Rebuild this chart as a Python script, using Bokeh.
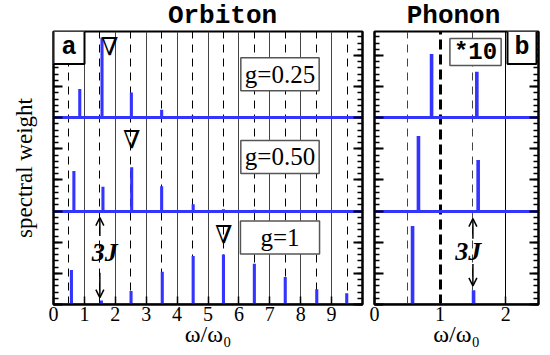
import math
from bokeh.plotting import figure
from bokeh.models import (Range1d, LinearAxis, FixedTicker, SingleIntervalTicker, Grid,
                          Label, Arrow, OpenHead, CustomJSTickFormatter)
from bokeh.layouts import row, column
from bokeh.embed import file_html
from bokeh.resources import INLINE

# ---------------- data ----------------
orb_tick_values = [0, 1, 2, 3, 4, 5, 6, 7, 8, 9]
orb_solid_lines = [1, 2, 3, 4, 5, 6, 7, 8, 9]
orb_dashed_lines = [0.5, 1.5, 2.5, 3.5, 4.5, 5.5, 6.5, 7.5, 8.5, 9.5]
ph_tick_values = [0, 1, 2]
ph_dashed_lines = [0.5, 1.5]
ph_thick_dashed = [1]
ph_solid_lines = [2]

offsets = [6, 3, 0]                      # vertical offsets: g=0.25, g=0.50, g=1
g_labels = ["g=0.25", "g=0.50", "g=1"]

# orbiton spectra (peak position in w/w0, peak weight)
orb_pos = [
    [0.85, 1.57, 2.52, 3.50, 4.50],
    [0.66, 1.60, 2.53, 3.50, 4.52, 5.50, 6.50, 7.50],
    [0.58, 1.55, 2.51, 3.52, 4.52, 5.50, 6.50, 7.50, 8.52, 9.49],
]
orb_w = [
    [0.92, 2.58, 0.81, 0.26, 0.06],
    [1.29, 0.78, 1.41, 0.80, 0.22, 0.06, 0.04, 0.03],
    [1.11, 0.13, 0.43, 1.05, 1.56, 1.61, 1.31, 0.88, 0.49, 0.36],
]
# phonon spectra (x10)
ph_pos = [
    [0.87, 1.56],
    [0.67, 1.58],
    [0.58, 1.51],
]
ph_w = [
    [2.05, 1.48],
    [2.41, 1.64],
    [2.52, 0.46],
]

BLUE = "#3434ff"
SERIF = "Liberation Serif"
MONO = "Liberation Mono"
Y_END = 8.77
STRIP_H = 30
BLANK = CustomJSTickFormatter(code="return ''")


def base_fig(x_end, frame_w, bl, br, tick_vals):
    p = figure(frame_width=frame_w, frame_height=273,
               x_range=Range1d(0, x_end), y_range=Range1d(0, Y_END),
               output_backend="svg", toolbar_location=None,
               min_border_left=bl, min_border_right=br,
               min_border_top=31 - STRIP_H, min_border_bottom=45)
    p.background_fill_color = "white"
    p.border_fill_color = "white"
    p.outline_line_color = "black"
    p.outline_line_width = 2
    p.ygrid.visible = False
    p.xgrid.visible = False

    xb = p.xaxis[0]
    xb.ticker = FixedTicker(ticks=tick_vals)
    xb.axis_line_width = 2
    xb.major_tick_in = 8
    xb.major_tick_out = 0
    xb.minor_tick_in = 0
    xb.minor_tick_out = 0
    xb.major_tick_line_width = 1.5
    xb.major_label_text_font = SERIF
    xb.major_label_text_font_size = "20px"
    xb.major_label_text_color = "black"
    xb.major_label_standoff = 2
    xb.axis_label = "ω/ω₀"
    xb.axis_label_text_font = SERIF
    xb.axis_label_text_font_size = "24px"
    xb.axis_label_text_font_style = "normal"
    xb.axis_label_text_color = "black"
    xb.axis_label_standoff = -3

    yl = p.yaxis[0]
    yl.ticker = SingleIntervalTicker(interval=1, num_minor_ticks=5)
    yl.formatter = BLANK
    yr = LinearAxis(ticker=SingleIntervalTicker(interval=1, num_minor_ticks=5), formatter=BLANK)
    p.add_layout(yr, "right")
    for ax in (yl, yr):
        ax.axis_line_width = 2
        ax.major_tick_in = 9
        ax.major_tick_out = 0
        ax.minor_tick_in = 5
        ax.minor_tick_out = 0
        ax.major_tick_line_width = 2
        ax.minor_tick_line_width = 1.5
        ax.major_label_standoff = 0
        ax.major_label_text_font_size = "1px"
    return p


def grid(p, ticks, color, width, dash):
    p.add_layout(Grid(dimension=0, ticker=FixedTicker(ticks=ticks),
                      grid_line_color=color, grid_line_width=width,
                      grid_line_dash=dash))


def label(p, x, y, text, font, size, style="normal", border=None, pad=0,
          angle=0, bw=1.5, units="data"):
    kw = {}
    if border is not None:
        kw = dict(border_line_color=border, border_line_width=bw,
                  background_fill_color="white", padding=pad)
    p.add_layout(Label(x=x, y=y, text=text, text_font=font,
                       x_units=units, y_units=units,
                       text_font_size=size, text_font_style=style,
                       text_align="center", text_baseline="middle",
                       angle=angle, text_color="black", **kw))


# ---------------- title strip ----------------
strip = figure(width=548, height=STRIP_H, x_range=Range1d(0, 548), y_range=Range1d(0, STRIP_H),
               output_backend="svg", toolbar_location=None,
               x_axis_type=None, y_axis_type=None, min_border=0)
strip.outline_line_color = None
strip.grid.visible = False
label(strip, 222, STRIP_H - 15, "Orbiton", MONO, "26px", style="bold")
label(strip, 453, STRIP_H - 15, "Phonon", MONO, "26px", style="bold")

# ---------------- panel a : Orbiton ----------------
pa = base_fig(10, 309, 53, 6, orb_tick_values)
pa.yaxis[0].axis_label = "spectral weight"
pa.yaxis[0].axis_label_text_font = SERIF
pa.yaxis[0].axis_label_text_font_size = "23px"
pa.yaxis[0].axis_label_text_font_style = "normal"
pa.yaxis[0].axis_label_text_color = "black"
pa.yaxis[0].axis_label_standoff = 17

grid(pa, orb_solid_lines, "#444444", 1, "solid")
grid(pa, orb_dashed_lines, "black", 1, "8 6")

pa.hspan(y=offsets, line_color=BLUE, line_width=3)
for off, xs, ws in zip(offsets, orb_pos, orb_w):
    pa.vbar(x=xs, bottom=off, top=[off + w for w in ws], width=0.1,
            fill_color=BLUE, line_color=None)

for yc, txt, pad in zip([7.40, 4.74, 2.15], g_labels, [(4, 3), (4, 3), (20, 3)]):
    label(pa, 7.33, yc, txt, SERIF, "25px", border="#555555", pad=pad, bw=1.5)

for xx, yy in [(1.82, 8.29), (2.53, 5.30), (5.51, 2.24)]:
    label(pa, xx, yy, "∇", "DejaVu Serif", "25px")

label(pa, 15.5, 257, "a", MONO, "25px", style="bold", border="black", pad=(8, 2), bw=2,
      units="screen")

label(pa, 1.66, 1.66, "3J", SERIF, "26px", style="bold italic")
pa.add_layout(Arrow(x_start=1.5, y_start=2.2, x_end=1.5, y_end=2.79,
                    line_width=1.5, end=OpenHead(size=8, line_width=1.5)))
pa.add_layout(Arrow(x_start=1.5, y_start=1.02, x_end=1.5, y_end=0.22,
                    line_width=1.5, end=OpenHead(size=8, line_width=1.5)))

# ---------------- panel b : Phonon ----------------
pb = base_fig(2.5, 164, 6, 10, ph_tick_values)
grid(pb, ph_dashed_lines, "#444444", 1, "8 6")
grid(pb, ph_thick_dashed, "black", 3, "10 5")
grid(pb, ph_solid_lines, "black", 1, "solid")

pb.hspan(y=offsets, line_color=BLUE, line_width=3)
for off, xs, ws in zip(offsets, ph_pos, ph_w):
    pb.vbar(x=xs, bottom=off, top=[off + w for w in ws], width=0.055,
            fill_color=BLUE, line_color=None)

label(pb, 147.5, 257, "b", MONO, "25px", style="bold", border="black", pad=(7, 2), bw=2,
      units="screen")
label(pb, 1.54, 8.11, "*10", MONO, "24px", style="bold", border="#555555", pad=(4, 0), bw=1.5)

label(pb, 1.43, 1.69, "3J", SERIF, "26px", style="bold italic")
pb.add_layout(Arrow(x_start=1.5, y_start=2.11, x_end=1.5, y_end=2.76,
                    line_width=1.5, end=OpenHead(size=8, line_width=1.5)))
pb.add_layout(Arrow(x_start=1.5, y_start=1.30, x_end=1.5, y_end=0.6,
                    line_width=1.5, end=OpenHead(size=8, line_width=1.5)))

layout = column(strip, row(pa, pb))
open("out.html", "w").write(file_html(layout, INLINE))
